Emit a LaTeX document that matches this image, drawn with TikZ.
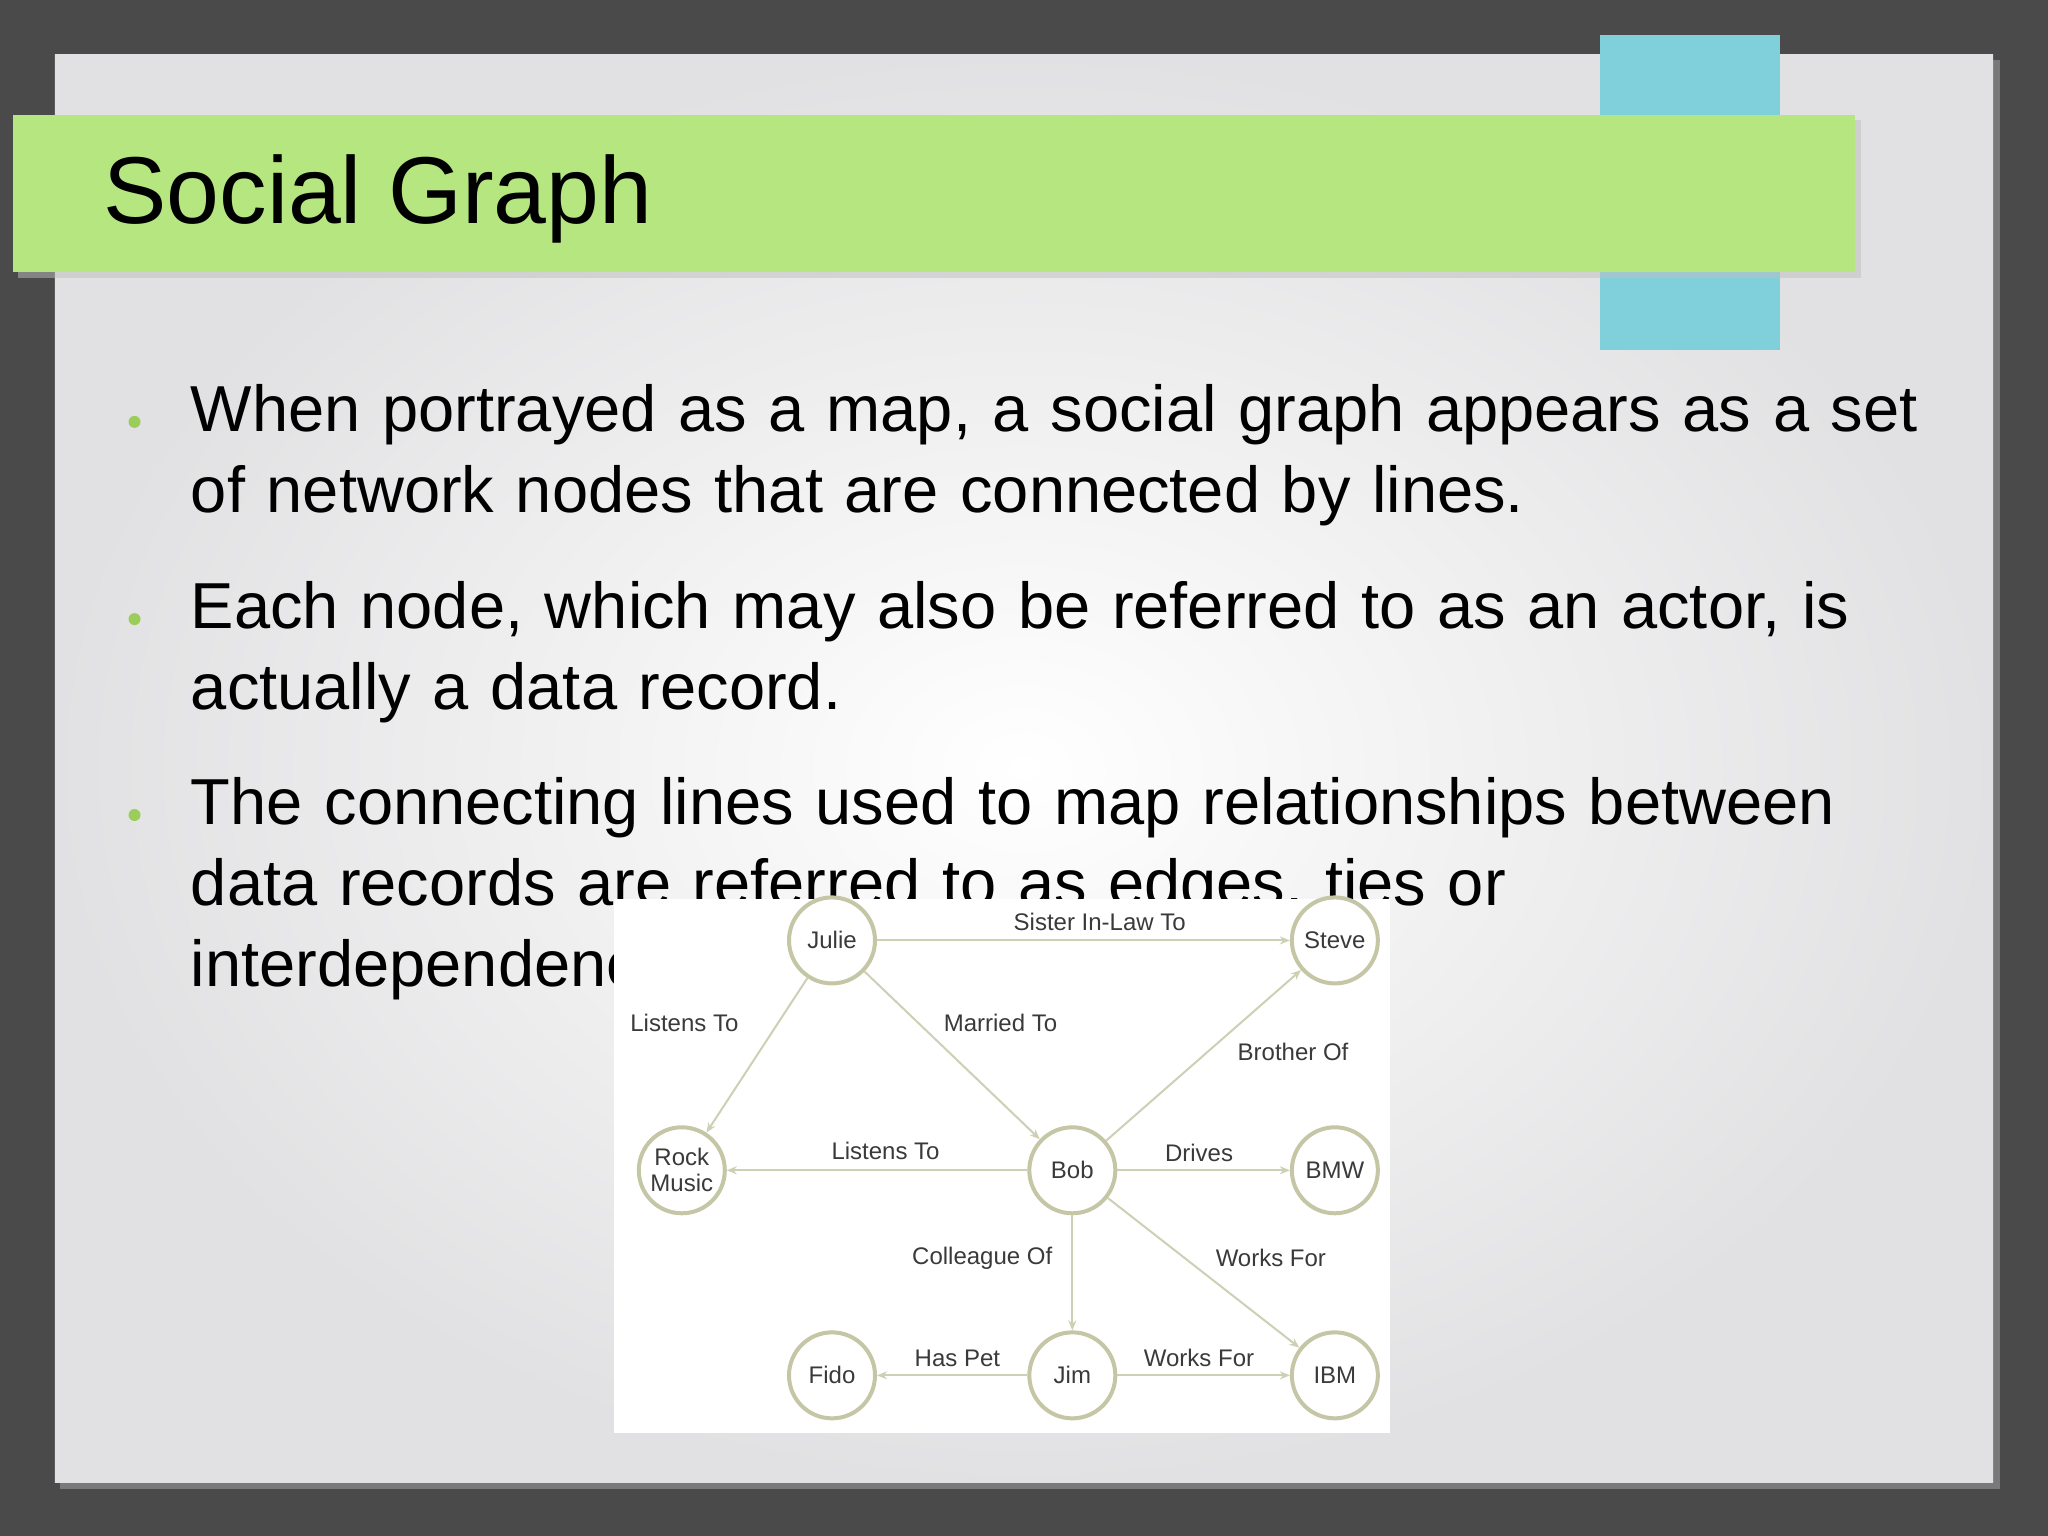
\documentclass[tikz,border=0pt]{standalone}
\usepackage{fontspec}
\setmainfont{Liberation Sans}
\usetikzlibrary{arrows.meta}
\definecolor{bgdark}{HTML}{4A4A4A}
\definecolor{slide}{HTML}{ECECEE}
\definecolor{banner}{HTML}{B5E67F}
\definecolor{tab}{HTML}{80D0DC}
\definecolor{ring}{HTML}{C4C6A6}
\definecolor{edge}{HTML}{CDD0B4}
\definecolor{bul}{HTML}{9ACD5A}
\definecolor{lbl}{HTML}{3A3A3A}
\tikzset{
 actor/.style={circle,draw=ring,line width=4pt,fill=white,minimum size=86pt,inner sep=0pt,align=center,font=\fontsize{24}{26}\selectfont\color{lbl}},
 rel/.style={draw=edge,line width=2pt,-{Stealth[length=10pt,width=8pt]}},
 rellbl/.style={font=\fontsize{24}{26}\selectfont,text=lbl,inner sep=2pt},
 bullettext/.style={anchor=base west,font=\fontsize{65}{81}\selectfont,inner sep=0pt,align=left,text width=1900pt},
 dot/.style={circle,fill=bul,inner sep=0pt,minimum size=12pt}
}
\begin{document}
\begin{tikzpicture}[x=1.30612pt,y=-1.30612pt]
\useasboundingbox (0,0) rectangle (1568,1176);
\fill[bgdark] (0,0) rectangle (1568,1176);
\fill[black!40,opacity=0.6] (46,46) rectangle (1531,1140);
\shade[inner color=white,outer color=slide!90!gray] (42,42) rectangle (1526,1135);
\fill[tab] (1225,27) rectangle (1363,268);
\fill[black!25,opacity=0.5] (14,92) rectangle (1425,213);
\fill[banner] (10,88) rectangle (1420,208);
\node[anchor=base west,font=\fontsize{95}{100}\selectfont,inner sep=0pt] (title) at (79,171) {Social Graph};

\node[dot] (d1) at (103,323) {};
\node[bullettext] (b1) at (146,330) {When portrayed as a map, a social graph appears as a set\\of network nodes that are connected by lines.};
\node[dot] (d2) at (103,474) {};
\node[bullettext] (b2) at (146,481) {Each node, which may also be referred to as an actor, is\\actually a data record.};
\node[dot] (d3) at (103,624) {};
\node[bullettext] (b3) at (146,631) {The connecting lines used to map relationships between\\data records are referred to as edges, ties or\\interdependencies.};

\fill[white] (470,688) rectangle (1064,1097);
\node[actor] (julie) at (637,720) {Julie};
\node[actor] (steve) at (1022,720) {Steve};
\node[actor] (rock) at (522,896) {Rock\\Music};
\node[actor] (bob) at (821,896) {Bob};
\node[actor] (bmw) at (1022,896) {BMW};
\node[actor] (fido) at (637,1053) {Fido};
\node[actor] (jim) at (821,1053) {Jim};
\node[actor] (ibm) at (1022,1053) {IBM};

\draw[rel] (julie) -- (steve);
\draw[rel] (julie) -- (rock);
\draw[rel] (julie) -- (bob);
\draw[rel] (bob) -- (steve);
\draw[rel] (bob) -- (rock);
\draw[rel] (bob) -- (bmw);
\draw[rel] (bob) -- (ibm);
\draw[rel] (bob) -- (jim);
\draw[rel] (jim) -- (fido);
\draw[rel] (jim) -- (ibm);

\node[rellbl] (l1) at (842,706) {Sister In-Law To};
\node[rellbl] (l2) at (524,783) {Listens To};
\node[rellbl] (l3) at (766,783) {Married To};
\node[rellbl] (l4) at (990,805) {Brother Of};
\node[rellbl] (l5) at (678,881) {Listens To};
\node[rellbl] (l6) at (918,883) {Drives};
\node[rellbl] (l7) at (752,963) {Colleague Of};
\node[rellbl] (l8) at (973,963) {Works For};
\node[rellbl] (l9) at (733,1040) {Has Pet};
\node[rellbl] (l10) at (918,1040) {Works For};
\end{tikzpicture}
\end{document}
